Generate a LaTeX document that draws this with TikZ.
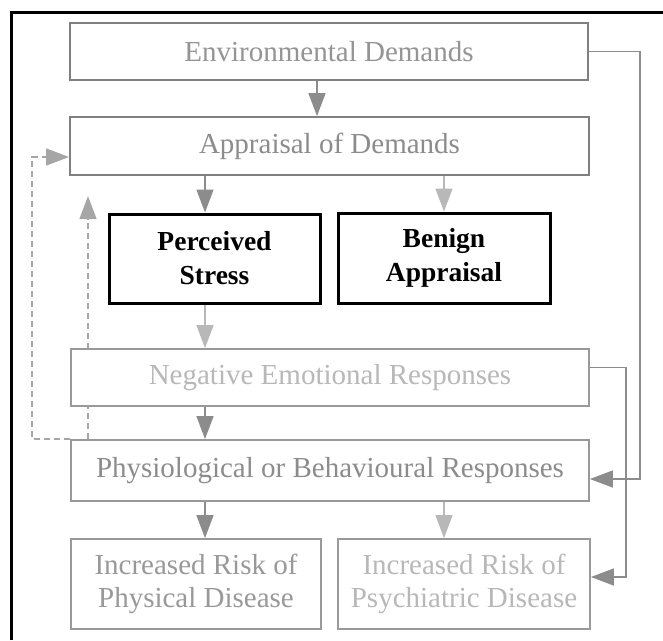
\documentclass[tikz,border=0pt]{standalone}
\usepackage{fontspec}
\setmainfont{Liberation Serif}
\usetikzlibrary{arrows.meta}
\pgfdeclarelayer{behind}
\pgfsetlayers{behind,main}

\begin{document}
\begin{tikzpicture}[x=1pt,y=-1pt,
  softbox/.style={draw=black!50, line width=1.8pt, fill=white, inner sep=0pt,
    align=center, font=\fontsize{29}{33}\selectfont},
  hardbox/.style={draw=black, line width=3pt, fill=white, inner sep=0pt,
    align=center, font=\fontsize{27.5}{34}\selectfont\bfseries},
  conn/.style={draw=black!45, line width=1.4pt,
    -{Triangle[length=23pt,width=17pt,color=black!45,fill=black!45]}},
  lightconn/.style={draw=black!28, line width=1.4pt,
    -{Triangle[length=23pt,width=17pt,color=black!28,fill=black!28]}},
  fb/.style={draw=black!35, line width=1.4pt, dash pattern=on 6pt off 4pt,
    -{Triangle[length=23pt,width=17pt,color=black!35,fill=black!35]}}
]
\useasboundingbox (0,0) rectangle (663,640);

% outer frame (left and top rules)
\draw[line width=3pt] (11,640) -- (11,12) -- (663,12);

% column and rail positions
\coordinate (colA) at (205,0);
\coordinate (colB) at (444,0);
\coordinate (colM) at (317,0);
\coordinate (r1) at (640,0);
\coordinate (r2) at (626,0);
\coordinate (l1) at (32,0);
\coordinate (l2) at (88,0);
\coordinate (uptip) at (88,196);

% boxes
\node[softbox, minimum width=518pt, minimum height=57pt, text=black!42] (env) at (329,51.5) {Environmental Demands};
\node[softbox, minimum width=519pt, minimum height=58pt, text=black!45] (app) at (329.5,146) {Appraisal of Demands};
\node[hardbox, minimum width=211pt, minimum height=89pt] (perc) at (214.5,258.5) {Perceived\\Stress};
\node[hardbox, minimum width=212pt, minimum height=90pt] (ben) at (444,258) {Benign\\Appraisal};
\node[softbox, draw=black!40, minimum width=518pt, minimum height=57pt, text=black!28] (neg) at (330,377.5) {Negative Emotional Responses};
\node[softbox, draw=black!40, minimum width=518pt, minimum height=61pt, text=black!45] (phys) at (330,470.5) {Physiological or Behavioural Responses};
\node[softbox, draw=black!40, minimum width=250pt, minimum height=90pt, text=black!40] (pdis) at (196,584) {Increased Risk of\\Physical Disease};
\node[softbox, draw=black!40, minimum width=252pt, minimum height=90pt, text=black!28] (sdis) at (464,584) {Increased Risk of\\Psychiatric Disease};

% feedback lines, kept behind the boxes
\coordinate (ain) at ([yshift=-11pt]app.west);
\begin{pgfonlayer}{behind}
\draw[fb] (phys.north west) -| (l1 |- ain) -- (ain);
\draw[fb] (phys.north -| l2) -- (uptip);
\end{pgfonlayer}

% vertical flow
\draw[conn] (env.south -| colM) -- (app.north -| colM);
\draw[conn] (app.south -| colA) -- (perc.north -| colA);
\draw[lightconn] (app.south -| colB) -- (ben.north -| colB);
\draw[lightconn] (perc.south -| colA) -- (neg.north -| colA);
\draw[conn] (neg.south -| colA) -- (phys.north -| colA);
\draw[conn] (phys.south -| colA) -- (pdis.north -| colA);
\draw[lightconn] (phys.south -| colB) -- (sdis.north -| colB);

% right-hand rails
\coordinate (pin) at ([yshift=-8.5pt]phys.east);
\coordinate (nout) at ([yshift=10pt]neg.east);
\coordinate (sin) at ([yshift=7pt]sdis.east);
\draw[conn] (env.east) -| (r1 |- pin) -- (pin);
\draw[conn] (nout) -| (r2 |- sin) -- (sin);
\end{tikzpicture}
\end{document}
